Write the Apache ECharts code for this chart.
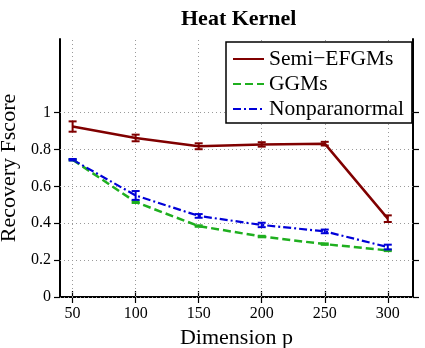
<!DOCTYPE html>
<html>
<head>
<meta charset="utf-8">
<script src="https://cdn.jsdelivr.net/npm/echarts@6/dist/echarts.min.js"></script>
<style>
  html, body { margin: 0; padding: 0; background: #fff; }
  #chart { width: 425px; height: 348px; }
</style>
</head>
<body>
<div id="chart"></div>
<script>
// values
var dims = [50, 100, 150, 200, 250, 300];
var xTicks = [50, 100, 150, 200, 250, 300];
var yTicks = [0, 0.2, 0.4, 0.6, 0.8, 1];
var semiMean = [0.925, 0.863, 0.818, 0.828, 0.832, 0.425];
var semiErr = [0.028, 0.018, 0.016, 0.012, 0.010, 0.018];
var ggmMean = [0.745, 0.515, 0.385, 0.328, 0.287, 0.253];
var ggmErr = [0.004, 0.005, 0.004, 0.004, 0.004, 0.004];
var npnMean = [0.745, 0.551, 0.440, 0.391, 0.356, 0.271];
var npnErr = [0.004, 0.024, 0.010, 0.012, 0.010, 0.013];
var names = ['Semi\u2212EFGMs', 'GGMs', 'Nonparanormal'];

var FONT = '"Liberation Serif", "DejaVu Serif", serif';
var colors = ['#800000', '#1faf1f', '#0000d8'];

function pairs(ys) {
  return dims.map(function (x, i) { return [x, ys[i]]; });
}
function bars(ys, es) {
  return dims.map(function (x, i) { return [x, ys[i] - es[i], ys[i] + es[i]]; });
}
function errSeries(ys, es, color) {
  return {
    type: 'custom',
    data: bars(ys, es),
    z: 5,
    silent: true,
    renderItem: function (params, api) {
      var lo = api.coord([api.value(0), api.value(1)]);
      var hi = api.coord([api.value(0), api.value(2)]);
      var w = 4;
      var st = { stroke: color, lineWidth: 2 };
      return {
        type: 'group',
        children: [
          { type: 'line', shape: { x1: lo[0], y1: lo[1], x2: hi[0], y2: hi[1] }, style: st },
          { type: 'line', shape: { x1: lo[0] - w, y1: lo[1], x2: lo[0] + w, y2: lo[1] }, style: st },
          { type: 'line', shape: { x1: hi[0] - w, y1: hi[1], x2: hi[0] + w, y2: hi[1] }, style: st }
        ]
      };
    }
  };
}

// dotted grid: vertical lines at every x tick, horizontal only 0..1
var gridLines = xTicks.map(function (x) { return { xAxis: x }; })
  .concat(yTicks.map(function (y) { return { yAxis: y }; }));

var axisLine = { show: true, lineStyle: { color: '#000', width: 2 } };
function ticks(vals) {
  return { show: true, inside: false, length: 6, customValues: vals, lineStyle: { color: '#000', width: 1.2 } };
}
function noLabels(vals) {
  return { show: true, customValues: vals, formatter: function () { return ''; } };
}

var chart = echarts.init(document.getElementById('chart'));
chart.setOption({
  animation: false,
  title: {
    text: 'Heat Kernel', left: 176, top: 3,
    textStyle: { fontFamily: FONT, fontSize: 22, fontWeight: 'bold', color: '#000' }
  },
  legend: {
    data: names, orient: 'vertical', left: 226, top: 42,
    itemWidth: 31, itemHeight: 14, itemGap: 3,
    itemStyle: { opacity: 0 },
    padding: [6, 8, 3, 6],
    backgroundColor: '#fff', borderColor: '#000', borderWidth: 1.5,
    textStyle: { fontFamily: FONT, fontSize: 21.5, lineHeight: 22, color: '#000' }
  },
  grid: { left: 60, right: 12, top: 39, bottom: 51, outerBoundsMode: 'none' },
  xAxis: [{
    type: 'value', min: 40, max: 320,
    name: 'Dimension p', nameLocation: 'middle', nameGap: 27,
    nameTextStyle: { fontFamily: FONT, fontSize: 22, color: '#000' },
    axisLine: axisLine, axisTick: ticks(xTicks),
    axisLabel: { customValues: xTicks, fontFamily: FONT, fontSize: 16, color: '#000', margin: 9 },
    splitLine: { show: false }
  }, {
    type: 'value', min: 40, max: 320, position: 'top',
    axisLine: axisLine, axisTick: ticks(xTicks),
    axisLabel: noLabels(xTicks), splitLine: { show: false }
  }],
  yAxis: [{
    type: 'value', min: 0, max: 1.4,
    name: 'Recovery Fscore', nameLocation: 'middle', nameGap: 35,
    nameTextStyle: { fontFamily: FONT, fontSize: 22, color: '#000' },
    axisLine: axisLine, axisTick: ticks(yTicks),
    axisLabel: {
      customValues: yTicks, fontFamily: FONT, fontSize: 16, color: '#000', margin: 9,
      formatter: function (v) { return String(Math.round(v * 10) / 10); }
    },
    splitLine: { show: false }
  }, {
    type: 'value', min: 0, max: 1.4, position: 'right',
    axisLine: axisLine, axisTick: ticks(yTicks),
    axisLabel: noLabels(yTicks), splitLine: { show: false }
  }],
  series: [
    {
      type: 'line', data: [], silent: true, z: 1,
      markLine: {
        silent: true, symbol: 'none', label: { show: false }, z: 1,
        lineStyle: { color: '#9a9a9a', type: [1, 3], width: 1 },
        emphasis: { disabled: true },
        data: gridLines
      }
    },
    {
      name: names[0], type: 'line', data: pairs(semiMean), symbol: 'none', z: 4,
      itemStyle: { color: colors[0] },
      lineStyle: { color: colors[0], width: 2.5 }
    },
    {
      name: names[1], type: 'line', data: pairs(ggmMean), symbol: 'none', z: 3,
      itemStyle: { color: colors[1] },
      lineStyle: { color: colors[1], width: 2.5, type: [8, 4] }
    },
    {
      name: names[2], type: 'line', data: pairs(npnMean), symbol: 'none', z: 3,
      itemStyle: { color: colors[2] },
      lineStyle: { color: colors[2], width: 2.2, type: [8, 3, 2, 3] }
    },
    errSeries(semiMean, semiErr, colors[0]),
    errSeries(ggmMean, ggmErr, colors[1]),
    errSeries(npnMean, npnErr, colors[2])
  ]
});
</script>
</body>
</html>
